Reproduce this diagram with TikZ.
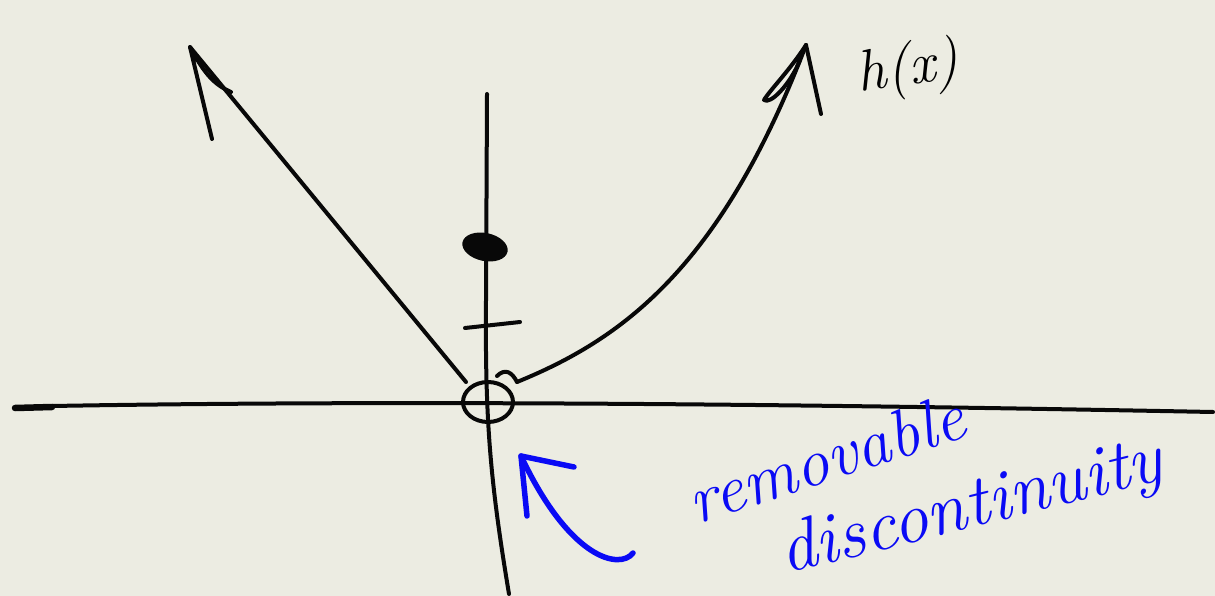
\documentclass[tikz,border=0pt]{standalone}
\definecolor{paper}{RGB}{236,236,226}
\definecolor{ink}{RGB}{8,8,8}
\definecolor{pen}{RGB}{10,10,245}
\begin{document}
\begin{tikzpicture}[x=1pt,y=-1pt,
  stroke/.style={draw=ink,line width=4pt,line cap=round,line join=round},
  bluestroke/.style={draw=pen,line width=5.5pt,line cap=round,line join=round},
  label/.style={inner sep=0pt,font=\itshape}]
\fill[paper] (0,0) rectangle (1215,596);
\useasboundingbox (0,0) rectangle (1215,596);
% x-axis
\draw[stroke] (52,406) .. controls (400,400) and (800,404) .. (1213,412);
\draw[draw=ink,line width=6.5pt,line cap=round] (15,408) -- (52,407);
% y-axis
\draw[stroke] (487,94) -- (486,300) .. controls (485,420) and (490,480) .. (509,594);
% filled dot
\fill[ink,rotate around={-12:(485,247)}] (485,247) ellipse [x radius=23,y radius=14];
% tick
\draw[stroke] (465,328) -- (520,322);
% open circle
\draw[stroke] (488,402) ellipse [x radius=25,y radius=20];
% left branch with arrow
\draw[stroke] (466,382) -- (190,47);
\draw[stroke] (212,139) -- (190,47) .. controls (205,75) and (215,85) .. (231,92);
% right branch
\draw[stroke] (497,376) .. controls (505,368) and (512,372) .. (517,382);
\draw[stroke] (517,382) .. controls (620,340) and (720,270) .. (806,45);
\draw[stroke] (806,45) -- (821,114);
\draw[stroke] (806,45) .. controls (790,70) and (770,90) .. (764,100) .. controls (770,105) and (790,85) .. (800,60);
% label h(x)
\node[label,font=\fontsize{58}{58}\selectfont\itshape,rotate=8] (hx) at (908,70) {h(x)};
% blue arrow
\draw[bluestroke] (633,553) .. controls (620,570) and (570,560) .. (521,456);
\draw[bluestroke] (527,516) -- (521,456) -- (574,467);
% blue text
\node[label,text=pen,font=\fontsize{68}{68}\selectfont\itshape,rotate=18] (rem) at (826,458) {removable};
\node[label,text=pen,font=\fontsize{72}{72}\selectfont\itshape,rotate=14,anchor=base west] (disc) at (785,574) {discontinuity};
\end{tikzpicture}
\end{document}
